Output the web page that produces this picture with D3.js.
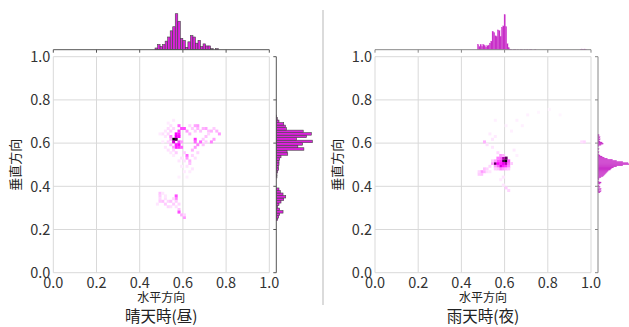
<!DOCTYPE html>
<html>
<head>
<meta charset="utf-8">
<script src="https://cdn.jsdelivr.net/npm/d3@7"></script>
<style>
  body { margin: 0; background: #fff; }
  svg { display: block; font-family: "Noto Sans CJK JP", "Noto Sans", sans-serif; }
</style>
</head>
<body>
<div id="chart"></div>
<script>
// ---- data ----
const ticks = [0, 0.2, 0.4, 0.6, 0.8, 1.0];
const titles = ['晴天時(昼)', '雨天時(夜)'];
const xLabel = '水平方向';
const yLabel = '垂直方向';

// 2D histogram cells: [x, y, relative density]
const binSize = 0.0125;
const dayCells = [
  [0.550, 0.612, 1.0], [0.562, 0.612, 0.9], [0.550, 0.600, 0.6], [0.562, 0.625, 0.55], [0.575, 0.625, 0.5],
  [0.562, 0.637, 0.5], [0.575, 0.637, 0.45], [0.575, 0.650, 0.4], [0.587, 0.662, 0.35], [0.575, 0.675, 0.3],
  [0.537, 0.625, 0.25], [0.575, 0.600, 0.35], [0.562, 0.587, 0.45], [0.575, 0.587, 0.5], [0.562, 0.575, 0.45],
  [0.575, 0.575, 0.4], [0.587, 0.575, 0.3], [0.550, 0.575, 0.2], [0.537, 0.587, 0.15], [0.587, 0.600, 0.2],
  [0.600, 0.662, 0.35], [0.612, 0.650, 0.2], [0.625, 0.637, 0.15], [0.650, 0.612, 0.4], [0.650, 0.600, 0.3],
  [0.662, 0.587, 0.25], [0.650, 0.575, 0.2], [0.637, 0.562, 0.15], [0.612, 0.537, 0.3], [0.612, 0.525, 0.2],
  [0.625, 0.512, 0.15], [0.625, 0.500, 0.12], [0.600, 0.550, 0.1],
  [0.650, 0.675, 0.18], [0.662, 0.675, 0.2], [0.662, 0.662, 0.15], [0.675, 0.650, 0.12], [0.650, 0.650, 0.1],
  [0.687, 0.662, 0.15], [0.700, 0.662, 0.18], [0.712, 0.650, 0.12], [0.725, 0.650, 0.15], [0.737, 0.662, 0.1],
  [0.750, 0.650, 0.15], [0.762, 0.637, 0.2], [0.737, 0.612, 0.18], [0.725, 0.600, 0.25], [0.700, 0.625, 0.12],
  [0.687, 0.612, 0.1], [0.675, 0.600, 0.3], [0.687, 0.587, 0.12], [0.700, 0.600, 0.1], [0.712, 0.637, 0.08],
  [0.637, 0.662, 0.1], [0.625, 0.675, 0.08],
  [0.500, 0.637, 0.06], [0.512, 0.650, 0.05], [0.525, 0.662, 0.07], [0.512, 0.625, 0.05], [0.525, 0.600, 0.08],
  [0.537, 0.650, 0.1], [0.550, 0.662, 0.08], [0.537, 0.675, 0.06], [0.525, 0.687, 0.04], [0.550, 0.700, 0.04],
  [0.500, 0.600, 0.04], [0.512, 0.575, 0.05], [0.525, 0.562, 0.06], [0.537, 0.550, 0.05], [0.550, 0.537, 0.04],
  [0.562, 0.550, 0.1], [0.550, 0.562, 0.08], [0.487, 0.637, 0.04], [0.537, 0.612, 0.15], [0.525, 0.637, 0.08],
  [0.600, 0.512, 0.06], [0.612, 0.487, 0.05], [0.637, 0.475, 0.05], [0.625, 0.462, 0.04], [0.650, 0.525, 0.06],
  [0.662, 0.550, 0.08], [0.637, 0.537, 0.08], [0.587, 0.487, 0.04], [0.600, 0.462, 0.04], [0.575, 0.437, 0.03],
  [0.612, 0.437, 0.03], [0.587, 0.525, 0.06], [0.575, 0.512, 0.05],
  [0.487, 0.362, 0.12], [0.487, 0.350, 0.1], [0.487, 0.337, 0.08], [0.487, 0.325, 0.1], [0.500, 0.325, 0.12],
  [0.512, 0.312, 0.1], [0.525, 0.325, 0.08], [0.537, 0.325, 0.12], [0.550, 0.312, 0.1], [0.537, 0.300, 0.06],
  [0.512, 0.337, 0.06], [0.525, 0.300, 0.08], [0.562, 0.337, 0.25], [0.562, 0.350, 0.35], [0.562, 0.325, 0.1],
  [0.575, 0.312, 0.08], [0.575, 0.287, 0.12], [0.575, 0.275, 0.35], [0.587, 0.262, 0.15], [0.600, 0.250, 0.2],
  [0.600, 0.262, 0.08], [0.475, 0.312, 0.05], [0.550, 0.337, 0.08], [0.500, 0.362, 0.05], [0.512, 0.350, 0.05],
  [0.562, 0.300, 0.06]
];
const nightCells = [
  [0.587, 0.512, 0.9], [0.600, 0.512, 1.0], [0.600, 0.525, 0.85], [0.587, 0.525, 0.7], [0.600, 0.500, 0.7],
  [0.550, 0.500, 0.85], [0.562, 0.500, 0.5], [0.575, 0.487, 0.6], [0.587, 0.500, 0.55], [0.575, 0.500, 0.45],
  [0.575, 0.512, 0.4], [0.562, 0.512, 0.35], [0.587, 0.487, 0.45], [0.600, 0.487, 0.4], [0.612, 0.500, 0.3],
  [0.612, 0.512, 0.35], [0.612, 0.487, 0.25], [0.575, 0.525, 0.3], [0.562, 0.525, 0.25], [0.550, 0.512, 0.2],
  [0.575, 0.537, 0.2], [0.587, 0.537, 0.15], [0.562, 0.487, 0.3], [0.550, 0.487, 0.2], [0.537, 0.500, 0.2],
  [0.575, 0.475, 0.25], [0.587, 0.475, 0.2], [0.600, 0.475, 0.15], [0.562, 0.475, 0.12], [0.612, 0.475, 0.12],
  [0.550, 0.475, 0.1], [0.562, 0.550, 0.08], [0.537, 0.512, 0.1], [0.525, 0.487, 0.08], [0.625, 0.500, 0.1],
  [0.487, 0.462, 0.2], [0.500, 0.462, 0.15], [0.487, 0.450, 0.12], [0.475, 0.450, 0.1], [0.500, 0.475, 0.12],
  [0.512, 0.475, 0.08], [0.475, 0.462, 0.08], [0.512, 0.462, 0.06], [0.525, 0.462, 0.05],
  [0.500, 0.600, 0.15], [0.512, 0.587, 0.06], [0.537, 0.612, 0.05], [0.525, 0.637, 0.04], [0.550, 0.625, 0.04],
  [0.537, 0.575, 0.05], [0.600, 0.387, 0.1], [0.612, 0.375, 0.08], [0.587, 0.400, 0.05], [0.575, 0.425, 0.04],
  [0.587, 0.437, 0.05], [0.962, 0.600, 0.08], [0.950, 0.600, 0.06],
  [0.650, 0.700, 0.03], [0.700, 0.725, 0.03], [0.750, 0.737, 0.02], [0.800, 0.750, 0.02], [0.625, 0.650, 0.03],
  [0.675, 0.675, 0.03], [0.850, 0.725, 0.02], [0.600, 0.675, 0.03], [0.550, 0.700, 0.03], [0.637, 0.562, 0.04],
  [0.650, 0.537, 0.03]
];

// marginal histograms (counts, first bin edge, bin width)
const dayTopStart = 0.471, dayTopWidth = 0.0117;
const dayTopCounts = [5, 15, 9, 15, 25, 37, 55, 67, 105, 83, 33, 27, 7, 23, 41, 37, 19, 27, 9, 17, 11, 11, 3, 0, 3];
const daySideStart = 0.241, daySideWidth = 0.01164;
const daySideCounts = [4, 7, 10, 20, 10, 4, 8, 14, 22, 28, 20, 12, 8, 0, 0, 0, 0, 2, 2, 4, 7, 6, 8, 8, 10, 14,
  34, 32, 82, 64, 78, 107, 60, 90, 104, 80, 30, 27, 22, 8, 3, 1];
const nightTopStart = 0.474, nightTopWidth = 0.00617;
const nightTopCounts = [16, 10, 16, 10, 16, 12, 8, 12, 14, 20, 26, 56, 52, 42, 40, 60, 58, 40, 68, 72, 106, 70, 18, 6, 2,
  1, 0, 1, 1, 0, 1, 0, 1, 1, 0, 1, 0, 1, 0, 1, 1, 0, 0, 1,
  0, 0, 0, 0, 0, 0, 0, 0, 0, 0, 0, 0, 0, 0, 0, 0, 0, 0, 0, 0, 0, 0, 0, 0, 0, 0, 0, 0, 0, 0, 0, 0, 0,
  1, 2, 1, 2, 1];
const nightSideStart = 0.37, nightSideWidth = 0.005;
const nightSideCounts = [2, 3, 1, 3, 0, 2, 1, 0, 2, 3, 1, 0, 1, 1, 3, 5, 6, 7, 8, 9, 10, 12, 13, 15, 18, 24, 30, 29,
  24, 18, 14, 9, 6, 4, 2, 1, 0, 1, 0, 0, 1, 0, 0, 1, 3, 5, 4, 2, 1, 2, 1, 2, 1, 1];

// ---- drawing ----
const W = 629, H = 327;
const svg = d3.select('#chart').append('svg').attr('width', W).attr('height', H);

const color = d3.scaleLinear()
  .domain([0, 0.5, 0.8, 1])
  .range(['#ffffff', '#ff00ff', '#800080', '#000000'])
  .clamp(true);

function drawPanel(opt) {
  const size = 216;
  const x = d3.scaleLinear().domain([0, 1]).range([opt.left, opt.left + size]);
  const y = d3.scaleLinear().domain([0, 1]).range([opt.top + size, opt.top]);
  const g = svg.append('g');

  // grid
  g.selectAll('.gx').data(ticks).enter().append('line')
    .attr('x1', d => x(d)).attr('x2', d => x(d))
    .attr('y1', y(0)).attr('y2', y(1))
    .attr('stroke', '#d9d9d9').attr('stroke-width', 1);
  g.selectAll('.gy').data(ticks).enter().append('line')
    .attr('x1', x(0)).attr('x2', x(1))
    .attr('y1', d => y(d)).attr('y2', d => y(d))
    .attr('stroke', '#d9d9d9').attr('stroke-width', 1);

  // density cells
  const cw = x(binSize) - x(0);
  g.selectAll('.cell').data(opt.cells).enter().append('rect')
    .attr('x', d => x(d[0]))
    .attr('y', d => y(d[1]) - cw)
    .attr('width', cw + 0.3)
    .attr('height', cw + 0.3)
    .attr('fill', d => color(d[2]));

  // tick labels
  g.selectAll('.tx').data(ticks).enter().append('text')
    .attr('x', d => x(d)).attr('y', y(0) + 15.5)
    .attr('text-anchor', 'middle')
    .attr('font-size', 14.5).attr('fill', '#333')
    .text(d => d.toFixed(1));
  g.selectAll('.ty').data(ticks).enter().append('text')
    .attr('x', x(0) - 3).attr('y', d => y(d) + 5.3)
    .attr('text-anchor', 'end')
    .attr('font-size', 14.5).attr('fill', '#333')
    .text(d => d.toFixed(1));

  // labels
  g.append('text')
    .attr('x', x(0.5)).attr('y', y(0) + 29)
    .attr('text-anchor', 'middle').attr('font-size', 12).attr('fill', '#222')
    .text(xLabel);
  g.append('text')
    .attr('transform', `translate(${opt.left - 33},${y(0.5)}) rotate(-90)`)
    .attr('text-anchor', 'middle').attr('font-size', 13).attr('fill', '#222')
    .text(yLabel);
  g.append('text')
    .attr('x', x(0.5)).attr('y', y(0) + 49.3)
    .attr('text-anchor', 'middle').attr('font-size', 15.5).attr('fill', '#222')
    .text(opt.title);

  // top marginal histogram
  const base = opt.top - 7;
  const hTop = d3.scaleLinear().domain([0, d3.max(opt.topCounts)]).range([0, opt.topLen]);
  g.selectAll('.bt').data(opt.topCounts.map((c, i) => [i, c]).filter(d => d[1] > 0)).enter().append('rect')
    .attr('x', d => x(opt.topStart + d[0] * opt.topWidth))
    .attr('width', x(opt.topWidth) - x(0))
    .attr('y', d => base - hTop(d[1]))
    .attr('height', d => hTop(d[1]))
    .attr('fill', opt.fill).attr('stroke', opt.edge).attr('stroke-width', opt.edgeW);
  g.append('line')
    .attr('x1', x(0)).attr('x2', x(1)).attr('y1', base).attr('y2', base)
    .attr('stroke', opt.axis).attr('stroke-width', 1);
  g.selectAll('.tt').data(ticks).enter().append('line')
    .attr('x1', d => x(d)).attr('x2', d => x(d)).attr('y1', base).attr('y2', base + 3)
    .attr('stroke', opt.axis).attr('stroke-width', 1);

  // side marginal histogram
  const sx = opt.left + size + 7;
  const hSide = d3.scaleLinear().domain([0, d3.max(opt.sideCounts)]).range([0, opt.sideLen]);
  g.selectAll('.bs').data(opt.sideCounts.map((c, i) => [i, c]).filter(d => d[1] > 0)).enter().append('rect')
    .attr('x', sx)
    .attr('y', d => y(opt.sideStart + (d[0] + 1) * opt.sideWidth))
    .attr('height', y(0) - y(opt.sideWidth))
    .attr('width', d => hSide(d[1]))
    .attr('fill', opt.fill).attr('stroke', opt.edge).attr('stroke-width', opt.edgeW);
  g.append('line')
    .attr('x1', sx).attr('x2', sx).attr('y1', y(0)).attr('y2', y(1))
    .attr('stroke', opt.axis).attr('stroke-width', 1);
  g.selectAll('.ts').data(ticks).enter().append('line')
    .attr('x1', sx - 3).attr('x2', sx).attr('y1', d => y(d)).attr('y2', d => y(d))
    .attr('stroke', opt.axis).attr('stroke-width', 1);
}

drawPanel({
  left: 53.3, top: 56.7, title: titles[0], cells: dayCells,
  topCounts: dayTopCounts, topStart: dayTopStart, topWidth: dayTopWidth, topLen: 36,
  sideCounts: daySideCounts, sideStart: daySideStart, sideWidth: daySideWidth, sideLen: 36,
  fill: '#dd22dd', edge: '#444', edgeW: 0.6, axis: '#555'
});
drawPanel({
  left: 375, top: 56.7, title: titles[1], cells: nightCells,
  topCounts: nightTopCounts, topStart: nightTopStart, topWidth: nightTopWidth, topLen: 35,
  sideCounts: nightSideCounts, sideStart: nightSideStart, sideWidth: nightSideWidth, sideLen: 31,
  fill: '#c424c4', edge: '#d455d4', edgeW: 0.3, axis: '#888'
});

// divider between the two panels
svg.append('line')
  .attr('x1', 323).attr('x2', 323).attr('y1', 10).attr('y2', 305)
  .attr('stroke', '#cfcfcf').attr('stroke-width', 1.5);
</script>
</body>
</html>
